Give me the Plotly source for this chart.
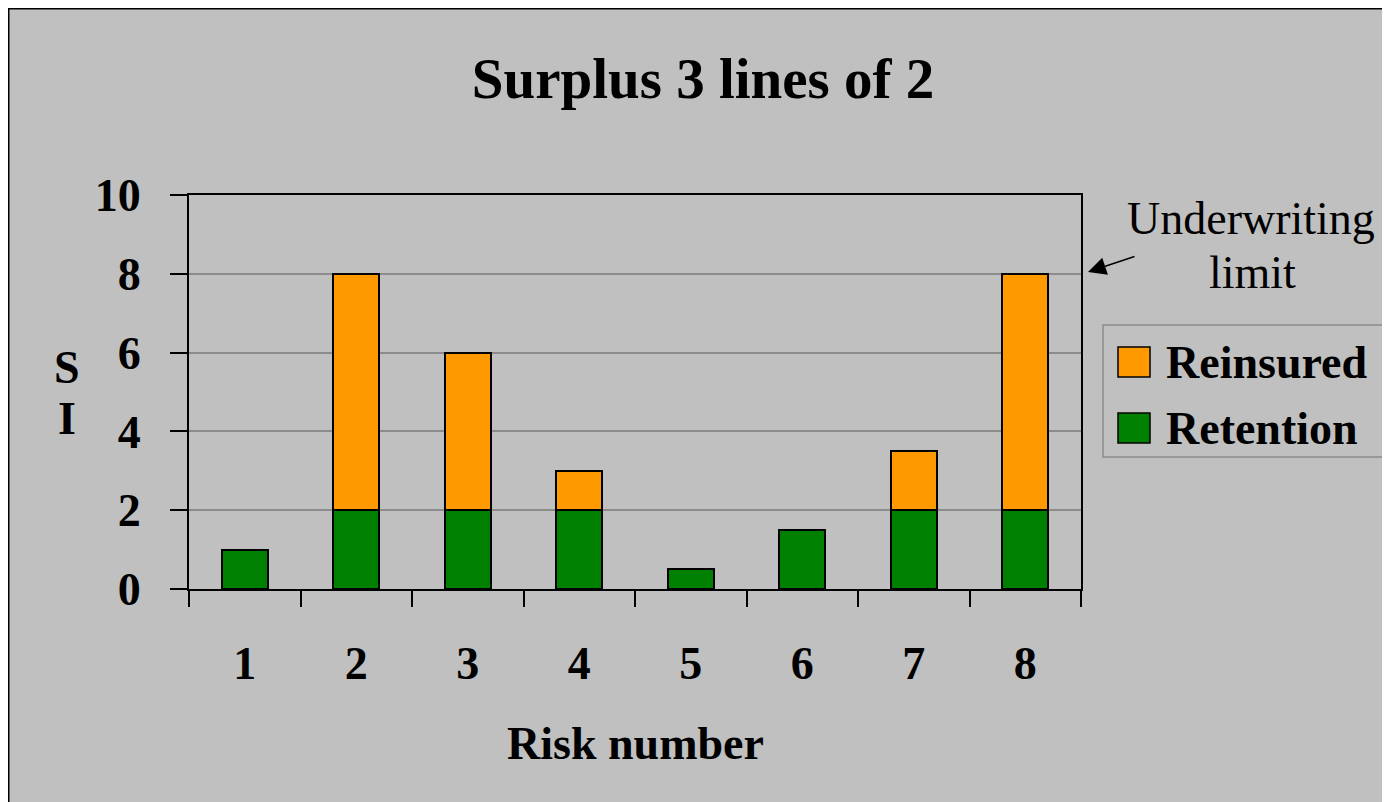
import plotly.graph_objects as go

categories = ["1", "2", "3", "4", "5", "6", "7", "8"]
retention = [1, 2, 2, 2, 0.5, 1.5, 2, 2]
reinsured = [0, 6, 4, 1, 0, 0, 1.5, 6]
y_ticks = [0, 2, 4, 6, 8, 10]

GREEN = "#008000"
ORANGE = "#FF9900"
BG = "#C0C0C0"
FONT = "Liberation Serif"

FW, FH = 1390, 802
OX, OY = 8, 8  # page margin offset of the screenshot
# plot area geometry (screen pixels)
L, R, T, B = 189, 1081, 195, 589
W, H = R - L, B - T


def px(x):
    return (x - L) / W


def py(y):
    return (B - y) / H


fig = go.Figure()
fig.add_trace(go.Bar(x=categories, y=retention, name="Retention",
                     marker=dict(color=GREEN, line=dict(color="black", width=2)),
                     showlegend=False, width=0.41))
fig.add_trace(go.Bar(x=categories, y=reinsured, name="Reinsured",
                     marker=dict(color=ORANGE, line=dict(color="black", width=2)),
                     showlegend=False, width=0.41))

shapes = [
    # figure border
    dict(type="rect", xref="paper", yref="paper", x0=px(OX), x1=px(OX + FW), y0=py(OY + FH), y1=py(OY),
         fillcolor="rgba(0,0,0,0)", line=dict(color="black", width=3), layer="below"),
    # legend box
    dict(type="rect", xref="paper", yref="paper", x0=px(1103), x1=px(1383), y0=py(457), y1=py(325),
         fillcolor=BG, line=dict(color="#8C8C8C", width=1.5), layer="above"),
    dict(type="rect", xref="paper", yref="paper", x0=px(1118), x1=px(1150), y0=py(377), y1=py(347),
         fillcolor=ORANGE, line=dict(color="black", width=1.5), layer="above"),
    dict(type="rect", xref="paper", yref="paper", x0=px(1118), x1=px(1150), y0=py(443), y1=py(413),
         fillcolor=GREEN, line=dict(color="black", width=1.5), layer="above"),
]

bold = dict(family=FONT, size=46, color="black", weight="bold")
normal = dict(family=FONT, size=46, color="black")

annotations = [
    dict(text="Risk number", xref="paper", yref="paper", x=px(635), y=py(743),
         xanchor="center", yanchor="middle", showarrow=False, font=bold),
    dict(text="S", xref="paper", yref="paper", x=px(67), y=py(367),
         xanchor="center", yanchor="middle", showarrow=False, font=bold),
    dict(text="I", xref="paper", yref="paper", x=px(67), y=py(418),
         xanchor="center", yanchor="middle", showarrow=False, font=bold),
    dict(text="Underwriting", xref="paper", yref="paper", x=px(1251), y=py(218),
         xanchor="center", yanchor="middle", showarrow=False, font=normal),
    dict(text="limit", xref="paper", yref="paper", x=px(1252), y=py(272),
         xanchor="center", yanchor="middle", showarrow=False, font=normal),
    dict(text="", xref="paper", yref="paper", x=px(1088), y=py(272),
         ax=48, ay=-16, showarrow=True, arrowhead=2, arrowsize=2.4, arrowwidth=1.5,
         arrowcolor="black"),
    dict(text="Reinsured", xref="paper", yref="paper", x=px(1164), y=py(362),
         xanchor="left", yanchor="middle", showarrow=False, font=bold),
    dict(text="Retention", xref="paper", yref="paper", x=px(1164), y=py(428),
         xanchor="left", yanchor="middle", showarrow=False, font=bold),
]

fig.update_layout(
    width=FW, height=FH,
    margin=dict(l=L - OX, r=FW - (R - OX), t=T - OY, b=FH - (B - OY), autoexpand=False),
    paper_bgcolor=BG,
    plot_bgcolor=BG,
    barmode="stack",
    title=dict(text="Surplus 3 lines of 2", x=(703 - OX) / FW, y=1 - (78 - OY) / FH,
               xanchor="center", yanchor="middle", xref="container", yref="container",
               font=dict(family=FONT, size=57, color="black", weight="bold")),
    shapes=shapes,
    annotations=annotations,
    showlegend=False,
)

fig.update_xaxes(
    type="category", showline=True, linecolor="black", linewidth=2, mirror=True,
    ticks="outside", tickson="boundaries", ticklen=16, tickwidth=2, tickcolor="black",
    tickfont=bold, ticklabelstandoff=33, showgrid=False, automargin=False,
)
fig.update_yaxes(
    range=[0, 10], tickvals=y_ticks, showline=True, linecolor="black", linewidth=2, mirror=True,
    ticks="outside", ticklen=17, tickwidth=2, tickcolor="black",
    tickfont=bold, ticklabelstandoff=20, showgrid=True, gridcolor="#8C8C8C", gridwidth=1.5,
    zeroline=False, automargin=False,
)

fig.write_html("out.html")
